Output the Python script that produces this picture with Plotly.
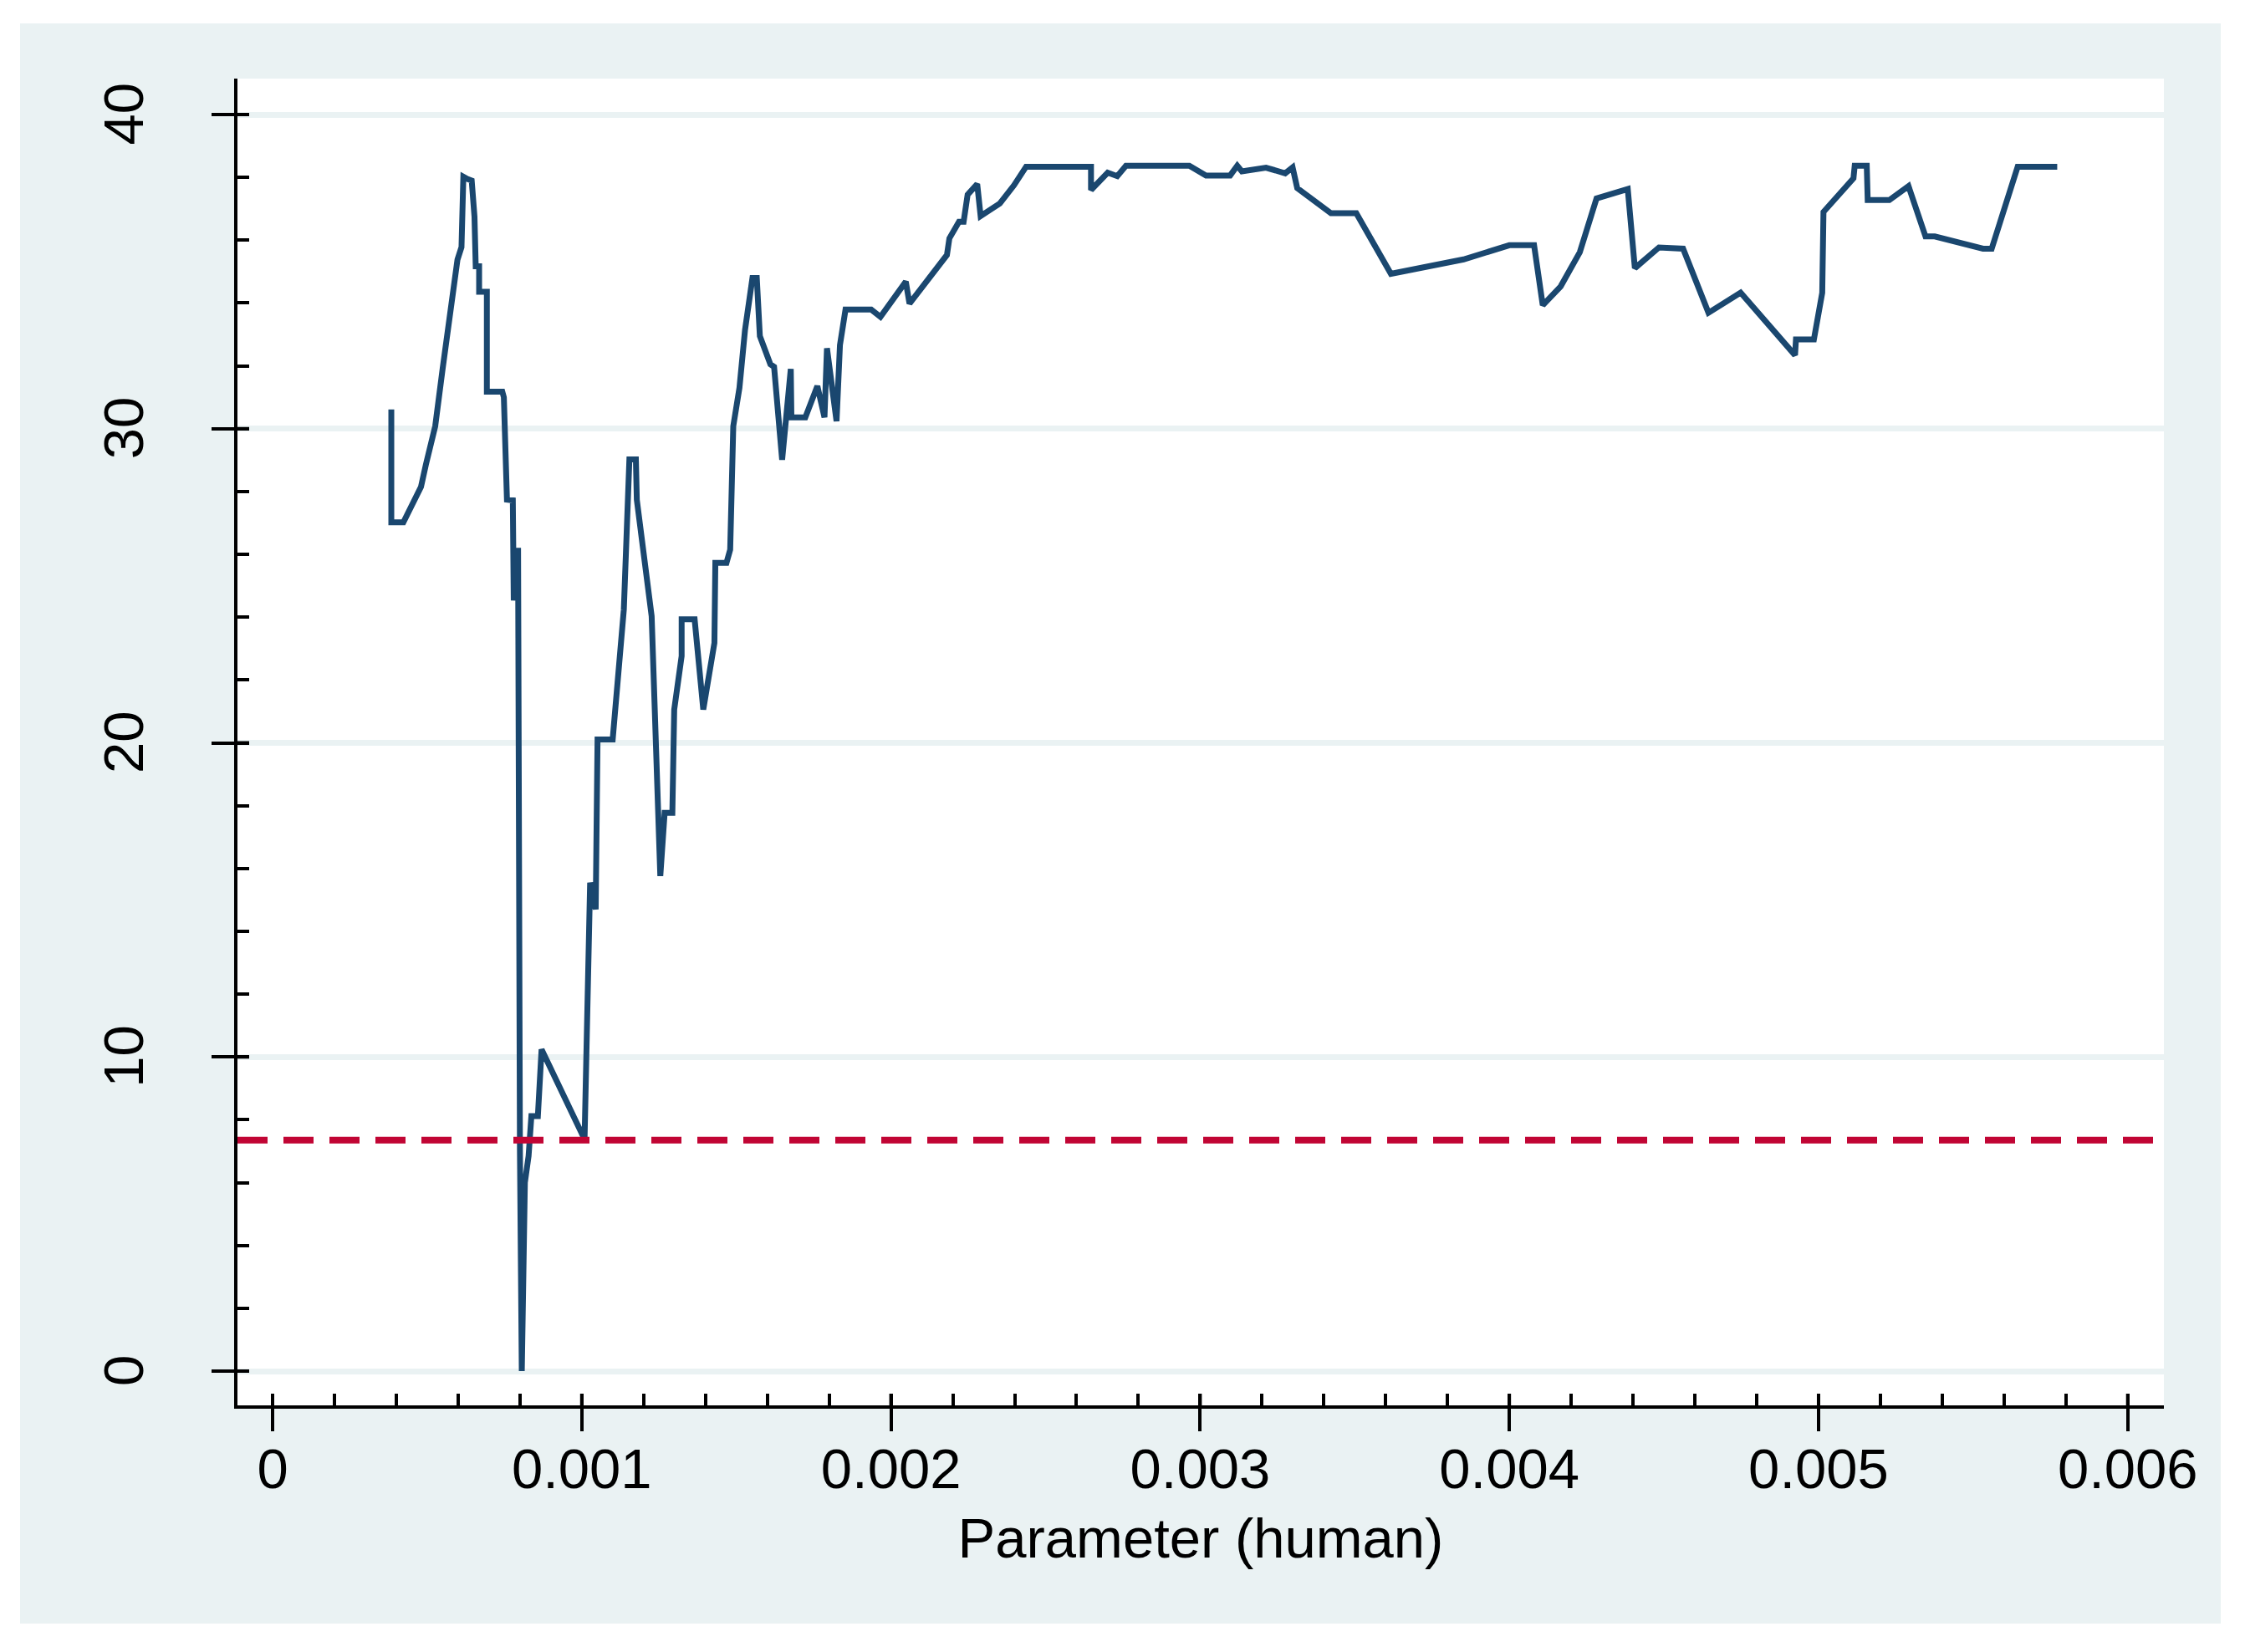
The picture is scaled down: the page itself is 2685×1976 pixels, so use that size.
import plotly.graph_objects as go

# ---- data ----
param_human = [
    0.000384, 0.000384, 0.000423, 0.000480, 0.000496, 0.000526, 0.000550, 0.000574,
    0.000598, 0.000611, 0.000617, 0.000630, 0.000644, 0.000653, 0.000657, 0.000668,
    0.000668, 0.000693, 0.000693, 0.000743, 0.000748, 0.000758, 0.000777, 0.000780,
    0.000794, 0.000800, 0.000806, 0.000816, 0.000828, 0.000837, 0.000858, 0.000870,
    0.001009, 0.001027, 0.001045, 0.001051, 0.001100, 0.001136, 0.001154, 0.001175,
    0.001178, 0.001226, 0.001254, 0.001268, 0.001293, 0.001299, 0.001323, 0.001323,
    0.001365, 0.001393, 0.001429, 0.001432, 0.001468, 0.001480, 0.001490, 0.001510,
    0.001528, 0.001552, 0.001566, 0.001576, 0.001610, 0.001622, 0.001648, 0.001676,
    0.001678, 0.001723, 0.001762, 0.001785, 0.001793, 0.001824, 0.001835, 0.001853,
    0.001936, 0.001966, 0.002048, 0.002060, 0.002181, 0.002189, 0.002220, 0.002235,
    0.002248, 0.002279, 0.002290, 0.002352, 0.002398, 0.002437, 0.002647, 0.002647,
    0.002701, 0.002732, 0.002760, 0.002965, 0.003019, 0.003097, 0.003120, 0.003135,
    0.003213, 0.003275, 0.003299, 0.003314, 0.003423, 0.003505, 0.003617, 0.003852,
    0.004000, 0.004080, 0.004108, 0.004166, 0.004228, 0.004282, 0.004383, 0.004406,
    0.004484, 0.004562, 0.004644, 0.004748, 0.004924, 0.004927, 0.004985, 0.005012,
    0.005016, 0.005113, 0.005117, 0.005156, 0.005159, 0.005229, 0.005291, 0.005346,
    0.005376, 0.005532, 0.005560, 0.005644, 0.005772,
]
value = [
    30.61, 27.02, 27.02, 28.15, 28.86, 30.08, 31.91, 33.75,
    35.38, 35.78, 38.02, 37.95, 37.90, 36.75, 35.17, 35.17,
    34.36, 34.36, 31.18, 31.18, 31.00, 27.74, 27.72, 24.53,
    26.21, 7.00, 0.00, 6.00, 6.85, 8.12, 8.12, 10.24,
    7.38, 15.55, 14.70, 20.11, 20.11, 24.24, 29.02, 29.02,
    27.74, 24.03, 15.76, 17.77, 17.77, 21.06, 22.76, 23.93,
    23.93, 21.06, 23.18, 25.73, 25.73, 26.15, 30.08, 31.30,
    33.14, 34.80, 34.80, 32.95, 32.05, 31.97, 29.01, 31.90,
    30.36, 30.36, 31.36, 30.36, 32.56, 30.24, 32.66, 33.79,
    33.79, 33.56, 34.68, 33.98, 35.53, 36.06, 36.59, 36.59,
    37.45, 37.79, 36.77, 37.17, 37.75, 38.34, 38.34, 37.60,
    38.15, 38.04, 38.37, 38.37, 38.06, 38.06, 38.37, 38.19,
    38.31, 38.13, 38.32, 37.66, 36.86, 36.86, 34.93, 35.39,
    35.84, 35.84, 33.93, 34.53, 35.62, 37.33, 37.63, 35.11,
    35.77, 35.73, 33.69, 34.33, 32.34, 32.84, 32.84, 34.33,
    36.90, 37.97, 38.37, 38.37, 37.28, 37.28, 37.72, 36.12,
    36.12, 35.73, 35.73, 38.34, 38.34,
]
threshold = 7.35

x_ticks = [0, 0.001, 0.002, 0.003, 0.004, 0.005, 0.006]
x_tick_labels = ["0", "0.001", "0.002", "0.003", "0.004", "0.005", "0.006"]
y_ticks = [0, 10, 20, 30, 40]
y_tick_labels = ["0", "10", "20", "30", "40"]

# ---- styling ----
W, H = 2685, 1976
ML, MR, MT, MB = 284, 97, 94, 295
BG = "#EAF2F3"
FONT = "Liberation Sans, Arial, sans-serif"
FS = 67
INNER = 14  # inward part of major ticks (px)

fig = go.Figure()
fig.add_trace(go.Scatter(
    x=param_human, y=value, mode="lines",
    line=dict(color="#1A476F", width=7),
    showlegend=False, hoverinfo="skip",
))

fig.add_shape(type="line", xref="paper", yref="y", x0=0, x1=1,
              y0=threshold, y1=threshold,
              line=dict(color="#C10534", width=8, dash="36px,19px"))

pw, ph = W - ML - MR, H - MT - MB

# inward extension of the major ticks
for t in y_ticks:
    fig.add_shape(type="line", xref="paper", yref="y", x0=0, x1=INNER / pw,
                  y0=t, y1=t, line=dict(color="black", width=4))
for t in x_ticks:
    fig.add_shape(type="line", xref="x", yref="paper", x0=t, x1=t,
                  y0=0, y1=INNER / ph, line=dict(color="black", width=4))

# white frame around the light background
def px_x(p):
    return (p - ML) / pw
def px_y(p):
    return (H - MB - p) / ph
for x0, x1, y0, y1 in [
    (0, 24, 0, H), (2656, W, 0, H), (0, W, 0, 28), (0, W, 1942, H)
]:
    fig.add_shape(type="rect", xref="paper", yref="paper",
                  x0=px_x(x0), x1=px_x(x1), y0=px_y(y1), y1=px_y(y0),
                  fillcolor="white", line=dict(width=0), layer="above")

fig.update_layout(
    width=W, height=H,
    margin=dict(l=ML, r=MR, t=MT, b=MB, pad=0),
    paper_bgcolor=BG, plot_bgcolor="white",
    font=dict(family=FONT, size=FS, color="black"),
    xaxis=dict(
        range=[-0.0001136, 0.006117],
        tickmode="array", tickvals=x_ticks, ticktext=x_tick_labels,
        ticks="outside", ticklen=27, tickwidth=4, tickcolor="black",
        showline=True, linecolor="black", linewidth=4,
        showgrid=False, zeroline=False,
        tickfont=dict(family=FONT, size=FS, color="black"),
        ticklabelstandoff=-12,
        minor=dict(ticks="inside", ticklen=14, tickwidth=4, tickcolor="black",
                   dtick=0.0002, tick0=0, showgrid=False),
        title=dict(text="Parameter (human)", font=dict(family=FONT, size=FS, color="black"),
                   standoff=24),
    ),
    yaxis=dict(
        range=[-1.091, 41.145],
        tickmode="array", tickvals=y_ticks,
        ticktext=[s + "\u00a0" for s in y_tick_labels],
        tickangle=-90,
        ticks="outside", ticklen=27, tickwidth=4, tickcolor="black",
        showline=True, linecolor="black", linewidth=4,
        showgrid=True, gridcolor=BG, gridwidth=7,
        zeroline=False,
        tickfont=dict(family=FONT, size=FS, color="black"),
        ticklabelstandoff=55,
        minor=dict(ticks="inside", ticklen=14, tickwidth=4, tickcolor="black",
                   dtick=2, tick0=0, showgrid=False),
    ),
)

fig.write_html("out.html", config={"displayModeBar": False},
               post_script="document.body.style.margin='0';")
